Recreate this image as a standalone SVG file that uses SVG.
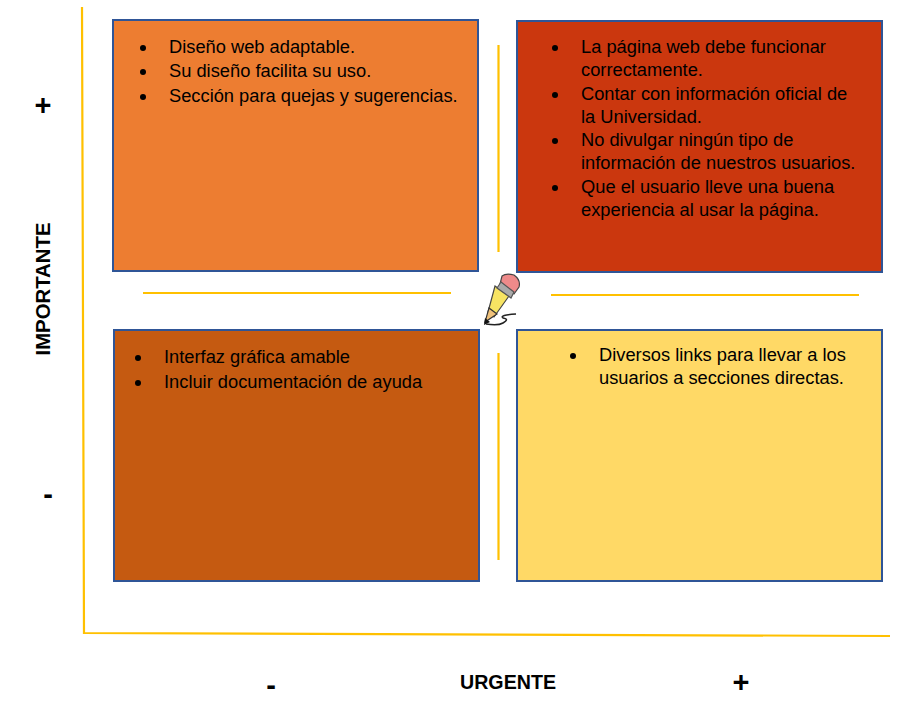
<svg xmlns="http://www.w3.org/2000/svg" width="909" height="707" viewBox="0 0 909 707">
<style>
.box{stroke:#2f5597;stroke-width:2}
text{font-family:"Liberation Sans",Arial,sans-serif;fill:#000}
.t{font-size:18.3px}
.b{font-weight:700}
.ax{stroke:#ffc000;stroke-width:2.2;fill:none}
.dot{fill:#000}
</style>
<rect width="909" height="707" fill="#fff"/>
<g id="connectors">
<path class="ax" d="M82 7L84 633L890 636"/>
<path class="ax" d="M498.500 45V252M498.500 353V560M143 293H451M551 295H859"/>
</g>
<g id="q1"><rect class="box" x="113" y="20" width="365" height="251" fill="#ed7d31"/>
<circle class="dot" cx="143" cy="48" r="3"/><circle class="dot" cx="143" cy="72" r="3"/><circle class="dot" cx="143" cy="97" r="3"/>
<text class="t" x="169" y="53">Diseño web adaptable.</text>
<text class="t" x="169" y="77">Su diseño facilita su uso.</text>
<text class="t" x="169" y="102">Sección para quejas y sugerencias.</text></g>
<g id="q2"><rect class="box" x="517" y="21" width="365" height="251" fill="#cb370e"/>
<circle class="dot" cx="555" cy="48" r="3"/><circle class="dot" cx="555" cy="95" r="3"/><circle class="dot" cx="555" cy="141" r="3"/><circle class="dot" cx="555" cy="188" r="3"/>
<text class="t" x="581" y="53">La página web debe funcionar</text>
<text class="t" x="581" y="76">correctamente.</text>
<text class="t" x="581" y="100">Contar con información oficial de</text>
<text class="t" x="581" y="123">la Universidad.</text>
<text class="t" x="581" y="146">No divulgar ningún tipo de</text>
<text class="t" x="581" y="169">información de nuestros usuarios.</text>
<text class="t" x="581" y="193">Que el usuario lleve una buena</text>
<text class="t" x="581" y="216">experiencia al usar la página.</text></g>
<g id="q3"><rect class="box" x="114" y="330" width="365" height="251" fill="#c55a11"/>
<circle class="dot" cx="138" cy="358" r="3"/><circle class="dot" cx="138" cy="383" r="3"/>
<text class="t" x="164" y="363">Interfaz gráfica amable</text>
<text class="t" x="164" y="388">Incluir documentación de ayuda</text></g>
<g id="q4"><rect class="box" x="517" y="330" width="365" height="251" fill="#ffd966"/>
<circle class="dot" cx="573" cy="356" r="3"/>
<text class="t" x="599" y="361">Diversos links para llevar a los</text>
<text class="t" x="599" y="384">usuarios a secciones directas.</text></g>
<g id="pencil">
<path d="M495 286L509 296L494 317L488 312Z" fill="#f7e463" stroke="#444" stroke-width="1.200"/>
<path d="M489 308L497 314L485 322Z" fill="#f0c27b" stroke="#333" stroke-width="1.200"/>
<path d="M484 325L485 318L490 322Z" fill="#111"/>
<path d="M502 276Q506 273 514 275Q521 280 519 287L514 294L500 284Z" fill="#ee8a8a" stroke="#444" stroke-width="1.200"/>
<path d="M501 282L514 292L511 298L497 288Z" fill="#aaa" stroke="#555" stroke-width="1.200"/>
<path d="M486 324Q498 326 503 323Q510 319 503 318Q499 315 516 314" fill="none" stroke="#222" stroke-width="1.500"/>
</g>
<g id="labels">
<text class="b" font-size="29" text-anchor="middle" x="43" y="115">+</text>
<text class="b" font-size="29" text-anchor="middle" x="48" y="504">-</text>
<text class="b" font-size="29" text-anchor="middle" x="271" y="695">-</text>
<text class="b" font-size="29" text-anchor="middle" x="741" y="692">+</text>
<text class="b" font-size="21" text-anchor="middle" x="508" y="689" textLength="96" lengthAdjust="spacingAndGlyphs">URGENTE</text>
<text class="b" font-size="21" text-anchor="middle" textLength="133" lengthAdjust="spacingAndGlyphs" transform="translate(50 289) rotate(-90)">IMPORTANTE</text>
</g>
</svg>
